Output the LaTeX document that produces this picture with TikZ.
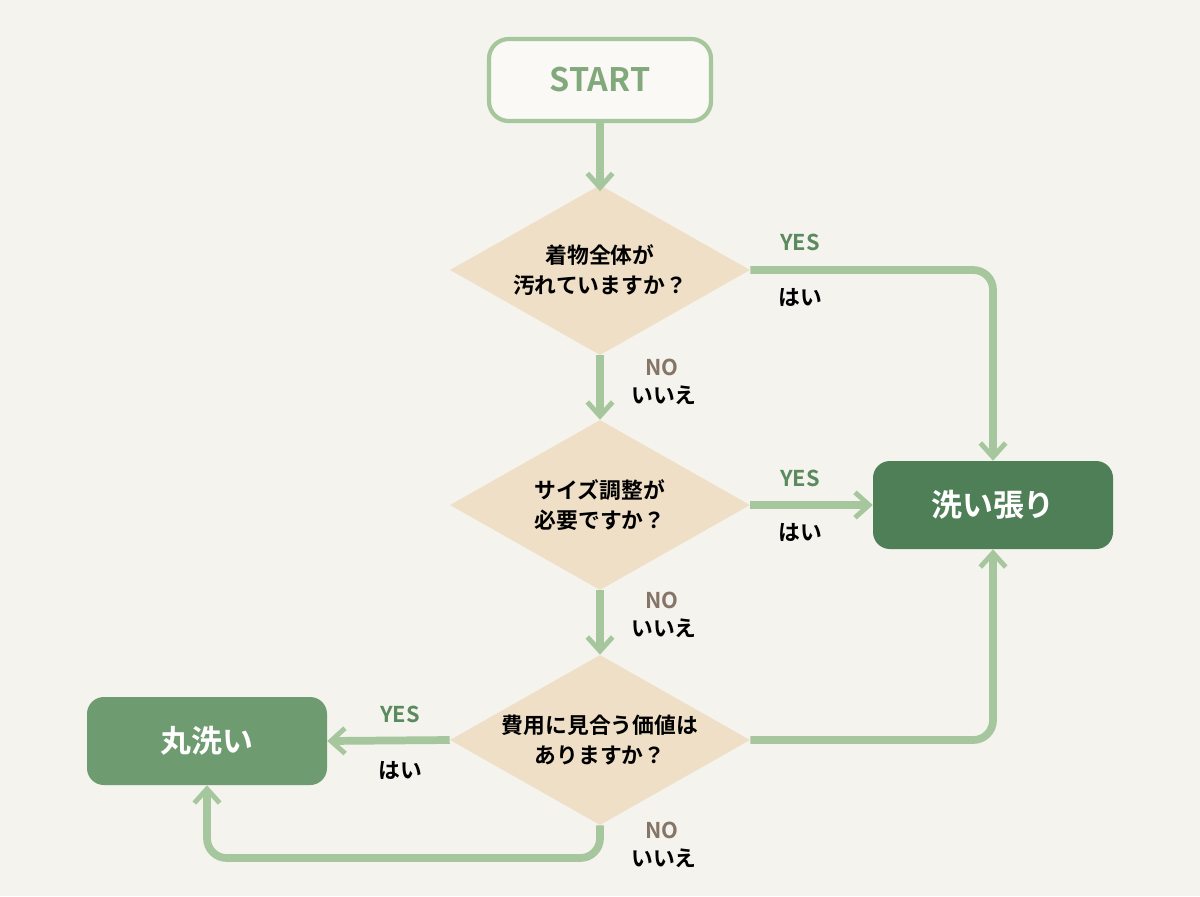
\documentclass[tikz,border=0pt]{standalone}
\usepackage{fontspec}
\setmainfont{Noto Sans CJK JP}[BoldFont={* Bold}]
\usetikzlibrary{shapes.geometric,arrows.meta}
\definecolor{bg}{HTML}{F4F3EE}
\definecolor{ln}{HTML}{A6C79D}
\definecolor{dia}{HTML}{EEDFC6}
\definecolor{dk}{HTML}{4F7F57}
\definecolor{md}{HTML}{6F9B71}
\definecolor{yes}{HTML}{5A8A5E}
\definecolor{no}{HTML}{857567}
\definecolor{st}{HTML}{82A97C}
\begin{document}
\begin{tikzpicture}[x=0.025cm,y=-0.025cm,
  dec/.style={diamond,fill=dia,minimum width=300*0.025cm,minimum height=170*0.025cm,inner sep=0pt,aspect=1.76,align=center,font=\bfseries\fontsize{15.5}{21}\selectfont},
  box/.style={rounded corners=12pt,minimum width=240*0.025cm,minimum height=88*0.025cm,text=white,font=\bfseries\fontsize{22}{26}\selectfont},
  arr/.style={draw=ln,line width=5.5pt,rounded corners=14pt,-{Straight Barb[length=10pt,width=18pt,line width=3.5pt]}},
  ys/.style={text=yes,font=\bfseries\fontsize{15.5}{18}\selectfont},
  ns/.style={text=no,font=\bfseries\fontsize{15.5}{18}\selectfont},
  js/.style={text=black,font=\bfseries\fontsize{15.5}{18}\selectfont}]
\fill[bg] (0,0) rectangle (1200,896);
\node[draw=ln,line width=3pt,fill=bg!50!white,rounded corners=14pt,minimum width=222*0.025cm,minimum height=82*0.025cm,text=st,font=\bfseries\fontsize{23}{27}\selectfont] (s) at (600,80) {START};
\node[dec] (d1) at (600,270) {着物全体が\\汚れていますか？};
\node[dec] (d2) at (600,505) {サイズ調整が\\必要ですか？};
\node[dec] (d3) at (600,740) {費用に見合う価値は\\ありますか？};
\node[box,fill=dk] (h) at (993,505) {洗い張り};
\node[box,fill=md] (m) at (207,741) {丸洗い};
\coordinate (c1) at (h.north |- d1.east);
\coordinate (c2) at (h.south |- d3.east);
\coordinate (c3) at (600,858);
\coordinate (c4) at (m.south |- c3);
\draw[arr] (s.south) -- ++(0,68);
\draw[arr] (d1.east) -- (c1) -- (h.north);
\draw[arr] (d1.south) -- (d2.north);
\draw[arr] (d2.east) -- (h.west);
\draw[arr] (d2.south) -- (d3.north);
\draw[arr] (d3.east) -- (c2) -- (h.south);
\draw[arr] (d3.west) -- (m.east);
\draw[arr] (d3.south) -- (c3) -- (c4) -- (m.south);
\node[ys] (y1) at (800,242) {YES}; \node[js] (j1) at (800,298) {はい};
\node[ys] (y2) at (800,478) {YES}; \node[js] (j2) at (800,532) {はい};
\node[ys] (y3) at (400,714) {YES}; \node[js] (j3) at (400,770) {はい};
\node[ns] (n1) at (662,367) {NO}; \node[js] (k1) at (664,395) {いいえ};
\node[ns] (n2) at (662,600) {NO}; \node[js] (k2) at (664,628) {いいえ};
\node[ns] (n3) at (662,830) {NO}; \node[js] (k3) at (664,858) {いいえ};
\end{tikzpicture}
\end{document}
